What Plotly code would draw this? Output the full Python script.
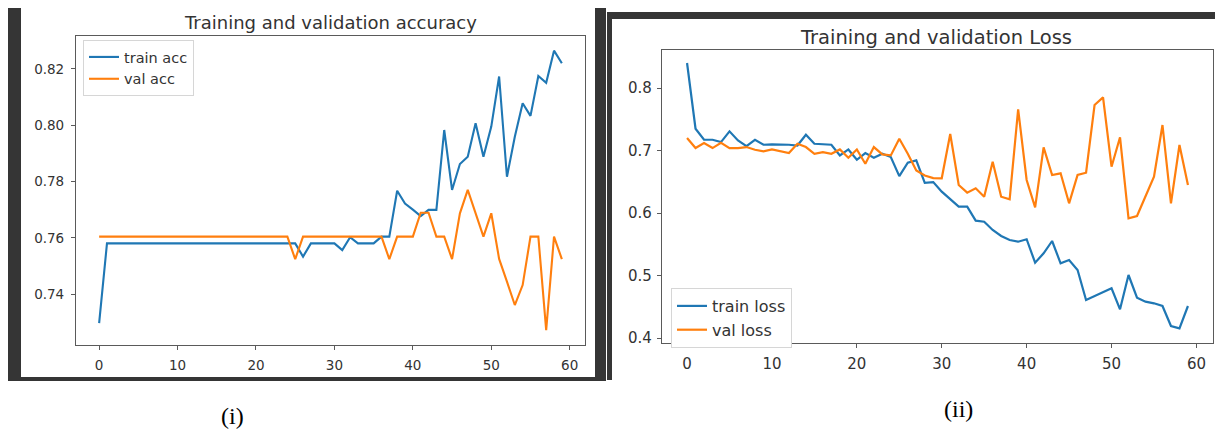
import plotly.graph_objects as go

# Reference canvas size (the browser body adds an 8px margin, compensated below)
W, H = 1223, 433
OFF = 8
FW, FH = W - OFF, H - OFF

epochs = list(range(60))

train_acc = [0.7297] + [0.758] * 24 + [
    0.758, 0.7533, 0.758, 0.758, 0.758, 0.758, 0.7556, 0.7602, 0.758, 0.758,
    0.758, 0.7604, 0.7604, 0.7767, 0.7722, 0.770, 0.7677, 0.7699, 0.7699, 0.7983,
    0.777, 0.7862, 0.7888, 0.8007, 0.7888, 0.7995, 0.8173, 0.7817, 0.7959, 0.8078,
    0.8033, 0.8175, 0.8151, 0.8265, 0.822]

val_acc = [0.7604] * 25 + [
    0.7524, 0.7604, 0.7604, 0.7604, 0.7604, 0.7604, 0.7604, 0.7604, 0.7604, 0.7604,
    0.7604, 0.7604, 0.7524, 0.7604, 0.7604, 0.7604, 0.7689, 0.7689, 0.7604, 0.7604,
    0.7524, 0.7687, 0.777, 0.7687, 0.7604, 0.7687, 0.7525, 0.7444, 0.7361, 0.7432,
    0.7604, 0.7604, 0.7272, 0.7604, 0.7524]

train_loss = [
    0.84, 0.7348, 0.7172, 0.7172, 0.7135, 0.7306, 0.7162, 0.7071, 0.7172, 0.7092,
    0.7097, 0.7097, 0.7092, 0.708, 0.7252, 0.7108, 0.7097, 0.7092, 0.6921, 0.7017,
    0.6852, 0.6959, 0.6884, 0.6948, 0.6895, 0.659, 0.6804, 0.6841, 0.6483, 0.6494,
    0.6341, 0.6219, 0.6101, 0.6101, 0.5877, 0.5861, 0.5728, 0.5632, 0.5568, 0.5541,
    0.558, 0.5205, 0.5355, 0.5552, 0.5195, 0.5248, 0.5088, 0.4608, 0.4672, 0.4741,
    0.4795, 0.4459, 0.5008, 0.4645, 0.4581, 0.4555, 0.4512, 0.4192, 0.4155, 0.4512]

val_loss = [
    0.7199, 0.7039, 0.7119, 0.7039, 0.7124, 0.7039, 0.7039, 0.7055, 0.7012, 0.6985,
    0.7017, 0.6991, 0.6959, 0.7108, 0.7055, 0.6948, 0.6975, 0.6948, 0.7017, 0.6884,
    0.7017, 0.6788, 0.7055, 0.6937, 0.6921, 0.7188, 0.6948, 0.6681, 0.6601, 0.6558,
    0.6555, 0.7264, 0.6448, 0.6325, 0.6395, 0.6261, 0.6821, 0.6261, 0.6219, 0.7659,
    0.6528, 0.6091, 0.7051, 0.6608, 0.6635, 0.6155, 0.6608, 0.6645, 0.7728, 0.7851,
    0.6741, 0.7211, 0.5915, 0.5952, 0.6261, 0.6581, 0.7408, 0.6155, 0.7088, 0.6448]

acc_yticks = [0.74, 0.76, 0.78, 0.80, 0.82]
loss_yticks = [0.4, 0.5, 0.6, 0.7, 0.8]
x_ticks = [0, 10, 20, 30, 40, 50, 60]

BLUE = "#1f77b4"
ORANGE = "#ff7f0e"
TXT = "#333333"
SPINE = "#5a5a5a"
BAR = "#353535"


def px(x):
    return (x - OFF) / FW


def py(y):
    return 1 - (y - OFF) / FH


fig = go.Figure()
fig.add_trace(go.Scatter(x=epochs, y=train_acc, mode="lines", name="train acc",
                         line=dict(color=BLUE, width=2.1), xaxis="x", yaxis="y", legend="legend"))
fig.add_trace(go.Scatter(x=epochs, y=val_acc, mode="lines", name="val acc",
                         line=dict(color=ORANGE, width=2.1), xaxis="x", yaxis="y", legend="legend"))
fig.add_trace(go.Scatter(x=epochs, y=train_loss, mode="lines", name="train loss",
                         line=dict(color=BLUE, width=2.2), xaxis="x2", yaxis="y2", legend="legend2"))
fig.add_trace(go.Scatter(x=epochs, y=val_loss, mode="lines", name="val loss",
                         line=dict(color=ORANGE, width=2.2), xaxis="x2", yaxis="y2", legend="legend2"))

axis_common = dict(showline=True, mirror=True, linecolor=SPINE, linewidth=1.2,
                   ticks="outside", ticklen=4, tickcolor=SPINE, showgrid=False,
                   zeroline=False, automargin=False)
f1 = dict(family="DejaVu Sans", size=13.5, color=TXT)
f2 = dict(family="DejaVu Sans", size=15, color=TXT)

fig.update_layout(
    width=FW, height=FH, margin=dict(l=0, r=0, t=0, b=0, pad=0, autoexpand=False),
    paper_bgcolor="white", plot_bgcolor="white",
    xaxis=dict(domain=[px(76), px(585)], range=[-2.95, 61.95], tickvals=x_ticks,
               anchor="y", tickfont=f1, ticklabelstandoff=4, **axis_common),
    yaxis=dict(domain=[py(345), py(36)], range=[0.7219, 0.8317], tickvals=acc_yticks,
               tickformat=".2f", anchor="x", tickfont=f1, ticklabelstandoff=4, **axis_common),
    xaxis2=dict(domain=[px(662), px(1213)], range=[-2.95, 61.95], tickvals=x_ticks,
                anchor="y2", tickfont=f2, ticklabelstandoff=3, **axis_common),
    yaxis2=dict(domain=[py(343), py(50)], range=[0.392, 0.8608], tickvals=loss_yticks,
                tickformat=".1f", anchor="x2", tickfont=f2, ticklabelstandoff=2, **axis_common),
    legend=dict(x=px(83), y=py(40), xanchor="left", yanchor="top", bgcolor="white",
                bordercolor="#d6d6d6", borderwidth=1,
                font=dict(family="DejaVu Sans", size=14.5, color=TXT), tracegroupgap=0),
    legend2=dict(x=px(671), y=py(288), xanchor="left", yanchor="top", bgcolor="white",
                 bordercolor="#d6d6d6", borderwidth=1,
                 font=dict(family="DejaVu Sans", size=16, color=TXT), tracegroupgap=0),
    showlegend=True,
)

# titles and panel labels
fig.add_annotation(text="Training and validation accuracy", x=px(330), y=py(23), xref="paper", yref="paper",
                   xanchor="center", yanchor="middle",
                   showarrow=False, font=dict(family="DejaVu Sans", size=18, color=TXT))
fig.add_annotation(text="Training and validation Loss", x=px(936), y=py(37), xref="paper", yref="paper",
                   xanchor="center", yanchor="middle",
                   showarrow=False, font=dict(family="DejaVu Sans", size=19.5, color=TXT))
fig.add_annotation(text="(i)", x=px(232), y=py(416), xref="paper", yref="paper",
                   xanchor="center", yanchor="middle",
                   showarrow=False, font=dict(family="Liberation Serif", size=24, color="black"))
fig.add_annotation(text="(ii)", x=px(958), y=py(409), xref="paper", yref="paper",
                   xanchor="center", yanchor="middle",
                   showarrow=False, font=dict(family="Liberation Serif", size=24, color="black"))

# dark frame bars of the screenshot panels
bars = [
    (7, 8, 21, 381),      # left panel left bar
    (595, 8, 606, 381),   # left panel right bar
    (7, 377, 606, 381),   # left panel bottom bar
    (607, 12, 1223, 19),  # right panel top bar
    (607, 12, 612, 380),  # right panel left bar
]
for x0, y0, x1, y1 in bars:
    fig.add_shape(type="rect", xref="paper", yref="paper", x0=px(x0), x1=px(x1),
                  y0=py(y1), y1=py(y0), fillcolor=BAR, line=dict(width=0), layer="above")

fig.write_html("out.html")
